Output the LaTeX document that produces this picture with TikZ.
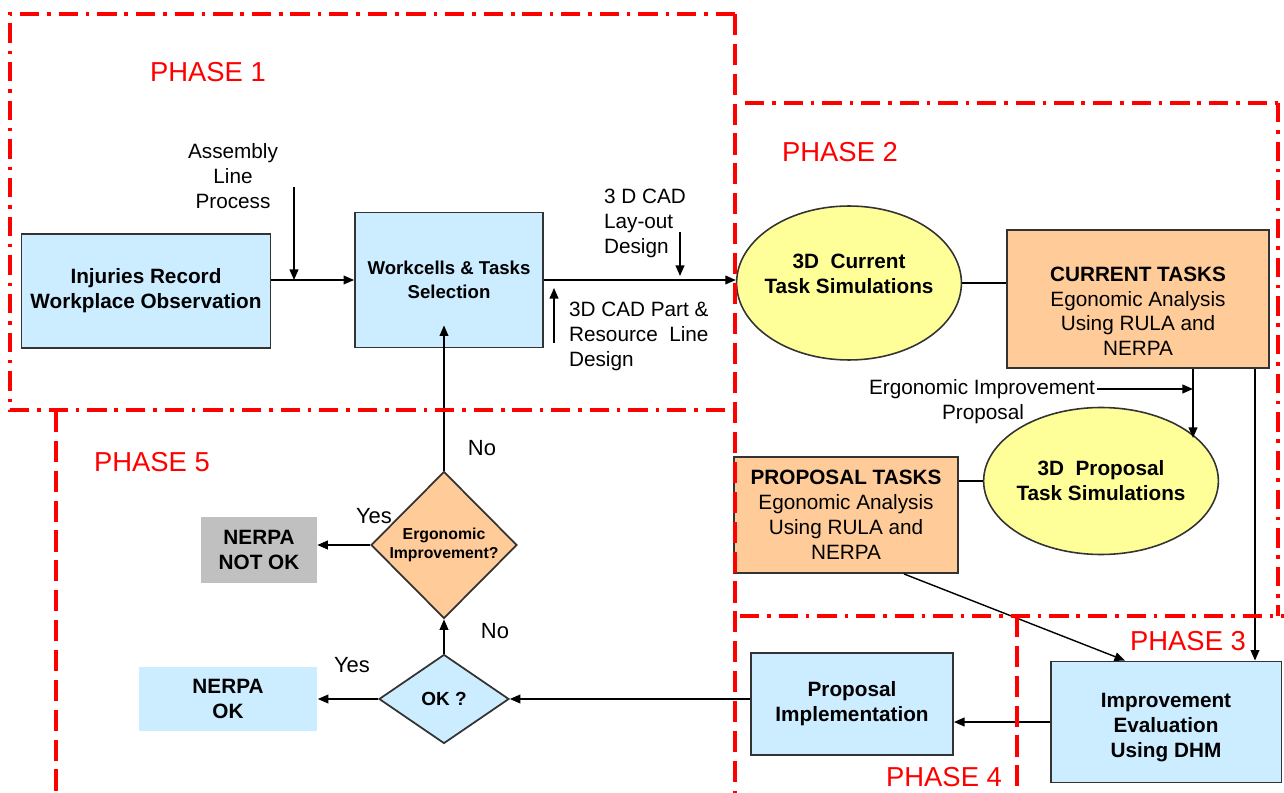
\documentclass[tikz,border=0pt]{standalone}
\usepackage{fontspec}
\setmainfont{Liberation Sans}
\usetikzlibrary{positioning, calc, arrows.meta, shapes.geometric}
\definecolor{Sky}{HTML}{CCECFF}
\definecolor{Peach}{HTML}{FFCC99}
\definecolor{Lemon}{HTML}{FFFF99}
\definecolor{Stone}{HTML}{C0C0C0}
\definecolor{Frame}{HTML}{333333}
\definecolor{Alarm}{HTML}{FF0000}
\tikzset{
    boxnode/.style={rectangle, draw=Frame, line width=1.1pt, inner sep=0pt, align=center, font=\bfseries\fontsize{11.8}{14.2}\selectfont},
    skynode/.style={boxnode, fill=Sky},
    peachnode/.style={boxnode, fill=Peach, font=\fontsize{11.8}{14.2}\selectfont},
    simnode/.style={ellipse, draw=Frame, line width=0.9pt, fill=Lemon, inner sep=0pt, align=center, font=\bfseries\fontsize{11.8}{14.2}\selectfont},
    flatnode/.style={rectangle, inner sep=0pt, align=center, font=\bfseries\fontsize{11.8}{14.2}\selectfont},
    decision/.style={diamond, draw=Frame, line width=1pt, inner sep=0pt, align=center, font=\bfseries},
    note/.style={inner sep=1pt, font=\fontsize{11.8}{14.2}\selectfont},
    answer/.style={inner sep=0pt, font=\fontsize{12.5}{15}\selectfont},
    phaselabel/.style={inner sep=0pt, text=Alarm, font=\fontsize{15.6}{18}\selectfont},
    arrow/.style={-{Triangle[length=6pt,width=5pt]}, line width=0.8pt, black},
    link/.style={line width=0.8pt, black},
    phaseline/.style={draw=Alarm, line width=2.2pt, dash pattern=on 11pt off 4.5pt on 2pt off 4.5pt},
    phasedash/.style={draw=Alarm, line width=2.2pt, dash pattern=on 12pt off 5pt},
}

\begin{document}
\begin{tikzpicture}[x=0.02cm, y=-0.02cm]
    \useasboundingbox (0,0) rectangle (1284,793);

    % Phase 1
    \node[skynode, minimum width=4.98cm, minimum height=2.28cm] (inj) at (146,291) {Injuries Record\\Workplace Observation};
    \node[skynode, minimum width=3.76cm, minimum height=2.7cm, font=\bfseries\fontsize{10.6}{13.6}\selectfont] (work) at (449,280) {Workcells \& Tasks\\Selection};
    \node[note, align=center] (asm) at (233,176) {Assembly\\Line\\Process};
    \node[note, align=left, anchor=west] (cadlay) at (602,223) {3 D CAD\\Lay-out\\Design};
    \node[note, align=left, anchor=west] (cadpart) at (567,336) {3D CAD Part \&\\Resource~~Line\\Design};
    \coordinate (asmtop) at (294,187);
    \coordinate (laytop) at (680,232);
    \coordinate (partlow) at (554,343);
    \draw[arrow] (inj.east |- work.west) -- (work.west);
    \draw[arrow] (asmtop) -- (asmtop |- work.west);
    \draw[arrow] (laytop) -- ++(0,44);
    \draw[arrow] (partlow) -- ++(0,-55);

    % Phase 2
    \node[simnode, inner xsep=-0.1cm, minimum width=4.48cm, minimum height=3.08cm] (cur) at (849,283) {3D~~Current\\Task Simulations\rule[-0.36cm]{0pt}{0.36cm}};
    \node[peachnode, minimum width=5.24cm, minimum height=2.76cm] (curtask) at (1138,299) {\rule{0pt}{0.78cm}\textbf{CURRENT TASKS}\\Egonomic Analysis\\Using RULA and\\NERPA};
    \draw[arrow] (work.east) -- (work.east -| cur.west);
    \draw[link] (cur.east) -- (cur.east -| curtask.west);
    \coordinate (drop1) at ([xshift=1.1cm]curtask.south);
    \coordinate (drop2) at ([xshift=2.34cm]curtask.south);
    \node[note] (ergimp) at (982,389) {Ergonomic Improvement};
    \node[note] (ergprop) at (983,414) {Proposal};
    \draw[arrow] (ergimp.east) -- (ergimp.east -| drop1);
    \node[simnode, inner xsep=-0.03cm, minimum width=4.64cm, minimum height=2.94cm] (propell) at (1101,481) {3D~~Proposal\\Task Simulations};
    \draw[arrow] (drop1) -- ++(0,69);
    \node[peachnode, minimum width=4.48cm, minimum height=2.32cm] (proptask) at (846,515) {\textbf{PROPOSAL TASKS}\\Egonomic Analysis\\Using RULA and\\NERPA};
    \draw[link] (proptask.east |- propell.west) -- (propell.west);

    % Phase 3
    \node[skynode, minimum width=4.62cm, minimum height=2.42cm] (impeval) at (1166,722) {\rule{0pt}{0.5cm}Improvement\\Evaluation\\Using DHM};
    \draw[arrow] (drop2) -- (drop2 |- impeval.north);
    \draw[arrow] ([xshift=1.16cm]proptask.south) -- ([xshift=-0.82cm]impeval.north);

    % Phase 4
    \node[skynode, minimum width=4.04cm, minimum height=2.04cm] (propimpl) at (852,704) {Proposal\\Implementation};
    \draw[arrow] (impeval.west) -- (impeval.west -| propimpl.east);

    % Phase 5
    \node[decision, fill=Sky, minimum width=2.6cm, minimum height=1.78cm, font=\bfseries\fontsize{10.8}{13}\selectfont] (ok) at (444,699) {OK ?};
    \node[decision, fill=Peach, minimum width=2.92cm, minimum height=2.94cm, font=\bfseries\fontsize{9}{10.8}\selectfont] (ergo) at (444,545) {Ergonomic\\Improvement?};
    \node[flatnode, fill=Stone, minimum width=2.32cm, minimum height=1.34cm] (notok) at (259,550) {NERPA\\NOT OK};
    \node[flatnode, fill=Sky, minimum width=3.58cm, minimum height=1.3cm] (nerpaok) at (228,699) {NERPA\\OK};
    \draw[arrow] (propimpl.west |- ok.east) -- (ok.east);
    \draw[arrow] (ok.west) -- (nerpaok.east);
    \draw[arrow] (ok.north) -- (ergo.south);
    \draw[arrow] (ergo.west) -- (ergo.west -| notok.east);
    \draw[arrow] (ergo.north) -- ($(ergo.north |- work.south)+(0,-23)$);
    \node[answer] (no1) at (482,448) {No};
    \node[answer] (yes1) at (374,516) {Yes};
    \node[answer] (no2) at (495,631) {No};
    \node[answer] (yes2) at (352,665) {Yes};

    % Phase frames
    \draw[phaseline] (735,14) -- (10,14) -- (10,410) -- (735,410);
    \draw[phasedash] (735,14) -- (735,793);
    \draw[phaseline] (745,103) -- (1290,103);
    \draw[phaseline] (1278,103) -- (1278,616);
    \draw[phaseline] (740,616) -- (1290,616);
    \draw[phasedash] (56,411) -- (56,793);
    \draw[phasedash] (1017,616) -- (1017,793);
    \node[phaselabel] (ph1) at (208,72) {PHASE 1};
    \node[phaselabel] (ph2) at (840,152) {PHASE 2};
    \node[phaselabel] (ph3) at (1188,641) {PHASE 3};
    \node[phaselabel] (ph4) at (944,777) {PHASE 4};
    \node[phaselabel] (ph5) at (152,462) {PHASE 5};
\end{tikzpicture}
\end{document}
